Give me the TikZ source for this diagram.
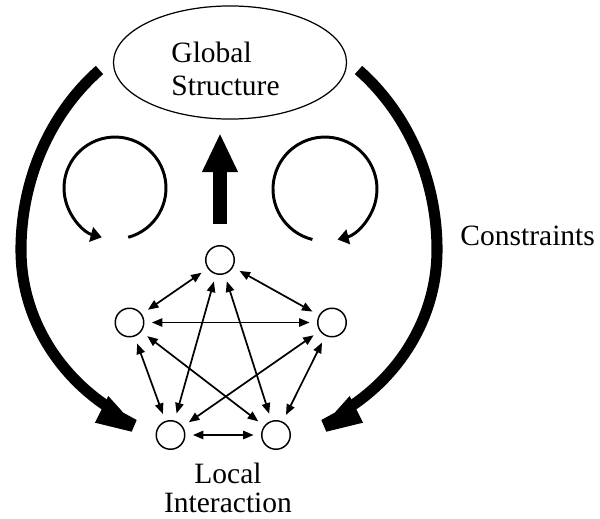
\documentclass[tikz,border=0pt]{standalone}
\usepackage{fontspec}
\setmainfont{Liberation Serif}
\usetikzlibrary{arrows.meta,shapes.geometric}
\begin{document}
\begin{tikzpicture}[x=0.4068pt,y=-0.4068pt,
  nd/.style={circle,draw,line width=0.6pt,minimum size=11.6pt,inner sep=0pt},
  dbl/.style={{Triangle[length=4.3pt,width=3.4pt]}-{Triangle[length=4.3pt,width=3.4pt]},line width=0.7pt,shorten <=3pt,shorten >=3pt},
  loopar/.style={line width=1.2pt,-{Triangle[length=4.5pt,width=6pt]}},
  big/.style={line width=4.5pt},
  headfill/.style={fill=black,draw=none},
  lbl/.style={font=\fontsize{12}{13.4}\selectfont,inner sep=0pt}]
\useasboundingbox (0,0) rectangle (600,519);

% global structure
\node[ellipse,draw,line width=0.5pt,minimum width=94.8pt,minimum height=46pt,inner sep=0pt] (gs) at (230,62.5) {};
\node[lbl,align=left,anchor=west] (gstext) at (171,68.5) {Global\\Structure};

% local nodes
\node[nd] (A) at (220,260) {};
\node[nd] (B) at (129.5,322.5) {};
\node[nd] (C) at (332,322.5) {};
\node[nd] (D) at (170.5,435) {};
\node[nd] (E) at (276,435) {};

\foreach \p/\q in {A/B,A/C,A/D,A/E,B/C,B/D,B/E,C/D,C/E,D/E}
  \draw[dbl] (\p) -- (\q);

% labels
\node[lbl,anchor=base west] (cons) at (460,245) {Constraints};
\node[lbl,align=center,font=\fontsize{12}{11.8}\selectfont] (li) at (228,487.5) {Local\\Interaction};

% up arrow
\coordinate (ub) at (220,224);
\coordinate (ut) at (220,133);
\draw[line width=5.3pt,-{Triangle[length=15.9pt,width=13.4pt]}] (ub) -- (ut);

% small loops
\coordinate (l1) at (128.2,237.3);
\draw[loopar] (l1) arc[start angle=75,end angle=-255,radius=51];
\coordinate (r1) at (312.4,239.5);
\draw[loopar] (r1) arc[start angle=104,end angle=436,radius=52];

% big constraint arcs
\coordinate (bl) at (99.5,70);
\draw[big] (bl) arc[start angle=-128.5,end angle=-180,x radius=208,y radius=230]
               arc[start angle=180,end angle=125,x radius=208,y radius=193];
\fill[headfill] (108.3,396) -- (123.3,412.7) -- (136.7,420) -- (131.7,431.7) -- (95,422.7) -- cycle;

\coordinate (br) at (358.5,70);
\draw[big] (br) arc[start angle=-51.5,end angle=0,x radius=208,y radius=230]
               arc[start angle=0,end angle=55,x radius=208,y radius=193];
\fill[headfill] (349.7,396) -- (334.7,412.7) -- (321.3,420) -- (326.3,431.7) -- (363,422.7) -- cycle;
\end{tikzpicture}
\end{document}
